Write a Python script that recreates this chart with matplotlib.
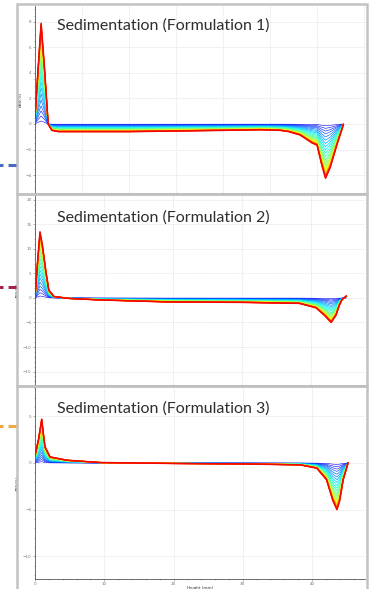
import numpy as np
import matplotlib
matplotlib.use('Agg')
import matplotlib.pyplot as plt
from matplotlib.patches import Rectangle
from matplotlib.lines import Line2D
from matplotlib.ticker import MultipleLocator

# profile of the last (red) scan: height (mm) / delta BS (%)
x1 = [0.0, 0.3, 0.65, 1.0, 1.4, 1.8, 2.5, 5.0, 10.0, 15.0, 20.0, 24.0, 26.1, 27.0, 28.2, 29.5, 30.0, 30.5, 30.9, 31.4, 32.1, 32.8]
y1 = [0.5, 4.0, 7.9, 4.5, 0.0, -0.5, -0.6, -0.6, -0.6, -0.55, -0.5, -0.45, -0.5, -0.6, -0.86, -1.5, -1.65, -3.2, -4.25, -3.4, -1.65, -0.05]

x2 = [0.0, 0.35, 0.72, 1.1, 1.55, 2.0, 2.75, 5.0, 9.3, 19.0, 30.0, 38.3, 40.7, 41.9, 42.9, 43.6, 44.1, 44.5, 45.1]
y2 = [0.0, 7.0, 13.5, 10.5, 5.7, 1.6, 0.3, -0.1, -0.4, -0.8, -0.9, -1.1, -2.0, -3.5, -5.0, -3.5, -1.4, -0.3, 0.4]

x3 = [0.0, 0.5, 0.97, 1.2, 1.44, 2.17, 4.6, 9.4, 20.0, 30.0, 38.3, 40.7, 42.1, 43.0, 43.6, 44.0, 44.5, 45.2]
y3 = [0.8, 2.5, 4.7, 3.2, 1.75, 0.65, 0.3, 0.05, -0.05, -0.1, -0.2, -0.55, -1.8, -4.0, -5.0, -4.0, -1.8, 0.0]

# relative level of each scan (blue = first, red = last)
scan_levels = [0.03, 0.08, 0.13, 0.18, 0.24, 0.30, 0.36, 0.42, 0.48, 0.54, 0.60, 0.66, 0.71,
               0.76, 0.80, 0.84, 0.87, 0.90, 0.92, 0.94, 0.96, 0.97, 0.98, 0.99, 1.0]

titles = ['Sedimentation (Formulation 1)', 'Sedimentation (Formulation 2)', 'Sedimentation (Formulation 3)']
marker_colors = ['#4a6cc0', '#a5214e', '#f2a745']

W, H = 373, 589
fig = plt.figure(figsize=(W / 100, H / 100), dpi=100)

def fx(px):
    return px / W

def fy(py):
    return 1 - py / H

# axes: (top px, bottom px), xlim, ylim, major ticks
panels = [
    dict(x=x1, y=y1, top=6, bot=193, xlim=(0, 35.1), ylim=(-5.41, 9.25), xmaj=5, xmin=1, ymaj=2, ymin=0.5),
    dict(x=x2, y=y2, top=196, bot=385, xlim=(0, 47.8), ylim=(-17.75, 20.8), xmaj=10, xmin=2, ymaj=5, ymin=1),
    dict(x=x3, y=y3, top=388, bot=579, xlim=(0, 47.65), ylim=(-12.42, 8.03), xmaj=10, xmin=2, ymaj=5, ymin=1),
]

cols = plt.cm.jet(np.linspace(0.1, 0.9, len(scan_levels)))

for i, p in enumerate(panels):
    ax = fig.add_axes([fx(35), fy(p['bot']), fx(365 - 35), (p['bot'] - p['top']) / H])
    xs = np.array(p['x'])
    ys = np.array(p['y'])
    n = len(scan_levels)
    for k, lev in enumerate(scan_levels):
        lw = 0.4 + 0.5 * k / (n - 1)
        if k == n - 1:
            lw = 1.1
        ax.plot(xs, lev * ys, color=cols[k], lw=lw, zorder=2 + k * 0.01)
    ax.set_xlim(*p['xlim'])
    ax.set_ylim(*p['ylim'])
    ax.xaxis.set_major_locator(MultipleLocator(p['xmaj']))
    ax.xaxis.set_minor_locator(MultipleLocator(p['xmin']))
    ax.yaxis.set_major_locator(MultipleLocator(p['ymaj']))
    ax.yaxis.set_minor_locator(MultipleLocator(p['ymin']))
    ax.grid(True, which='major', color='#e6e6e6', lw=0.6, ls=(0, (2, 1)))
    ax.set_axisbelow(True)
    for s in ['top', 'right']:
        ax.spines[s].set_visible(False)
    ax.spines['left'].set_color('#555555')
    ax.spines['left'].set_linewidth(0.6)
    ax.spines['bottom'].set_color('#555555')
    ax.spines['bottom'].set_linewidth(0.6)
    ax.tick_params(which='both', length=1.5, width=0.4, colors='#777777', labelsize=3, pad=1)
    ax.tick_params(which='minor', length=1)
    ax.set_ylabel('ΔBS(%)', fontsize=3, labelpad=2, color='#333333')
    if i < 2:
        ax.tick_params(axis='x', labelbottom=False)
    else:
        ax.tick_params(axis='x', pad=0.5)
        ax.set_xlabel('Height (mm)', fontsize=3, labelpad=0, color='#333333')
    ax.patch.set_alpha(0)

# panel titles
title_y = [26, 218, 409]
for t, ty in zip(titles, title_y):
    fig.text(fx(57), fy(ty), t, fontsize=11.5, family='Lato',
             color='#2e2e2e', va='center', ha='left')

# grey frames around each panel
frames = [(4, 194), (194, 386), (386, 600)]
for top, bot in frames:
    fig.add_artist(Rectangle((fx(17), fy(bot)), fx(367 - 17), (bot - top) / H,
                             transform=fig.transFigure, fill=False, ec='#c2c2c2', lw=1.8, zorder=10))

# dashed markers on the left edge
marker_y = [165, 287, 426]
for my, c in zip(marker_y, marker_colors):
    fig.add_artist(Line2D([fx(16), fx(-6)], [fy(my), fy(my)], transform=fig.transFigure,
                          color=c, lw=2.2, dashes=(2.6, 1.65), zorder=10))

fig.savefig('out.png', dpi=100)
